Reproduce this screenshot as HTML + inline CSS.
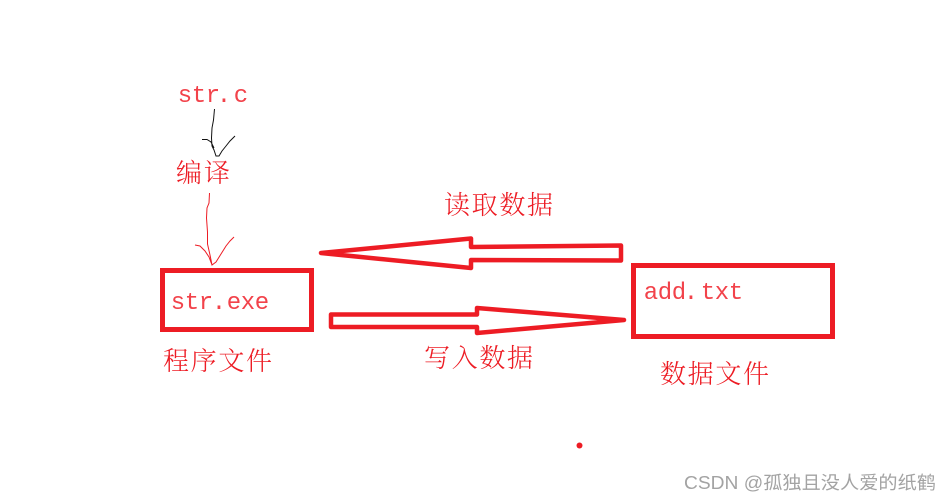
<!DOCTYPE html>
<html>
<head>
<meta charset="utf-8">
<style>
html,body{margin:0;padding:0;background:#fff;}
#c{position:relative;width:951px;height:502px;overflow:hidden;background:#fff;}
svg{position:absolute;left:0;top:0;}
.cjk{font-family:"Noto Serif CJK SC","Liberation Serif",serif;font-size:26px;font-weight:300;fill:#ed1c24;}
.mono{font-family:"Liberation Mono",monospace;font-size:24px;fill:#f2424a;text-anchor:middle;}
</style>
</head>
<body>
<div id="c">
<svg width="951" height="502" viewBox="0 0 951 502">
  <text class="mono" x="185 199 213 224 241" y="102">str.c</text>
  <text class="cjk" x="176" y="182" textLength="54">编译</text>
  <text class="cjk" x="444" y="214" textLength="109">读取数据</text>
  <text class="cjk" x="424" y="367" textLength="109">写入数据</text>
  <text class="cjk" x="163" y="370" textLength="109">程序文件</text>
  <text class="cjk" x="660" y="383" textLength="109">数据文件</text>
  <text class="mono" x="178 192 206 219 234 248 262" y="309">str.exe</text>
  <text class="mono" x="651 665 679 691 708 722 736" y="299">add.txt</text>

  <path d="M214.500 109 L213.500 120 L212 128 L211.500 138 L212 146 L214 150 L216 156 L219 156 L222 151 L226 146 L230 141 L235 136 M202 139.500 L207 139.500 L211 142 L214 148" fill="none" stroke="#111" stroke-width="1"/>
  <path d="M209.500 193 L209 203 L207 208 L206.500 218 L207.500 232 L207.500 244 L210 255 L212 265 L216 262 L221 254 L226 246 L230 241 L234 237 M195 245 L200 246 L205 251 L209 257 L212 265" fill="none" stroke="#ed1c24" stroke-width="1"/>

  <rect x="162.500" y="270.500" width="149" height="59" fill="none" stroke="#ed1c24" stroke-width="5"/>
  <rect x="633.500" y="265.500" width="199" height="71" fill="none" stroke="#ed1c24" stroke-width="5"/>

  <path d="M321 253 L471 238.500 L471 247 L621 245.500 L621 260.500 L471 260 L471 268 Z" fill="none" stroke="#ed1c24" stroke-width="4.500" stroke-linejoin="round"/>
  <path d="M624 320 L477 308 L477 314.500 L331 314.500 L331 327 L477 327 L477 333 Z" fill="none" stroke="#ed1c24" stroke-width="4.500" stroke-linejoin="round"/>

  <circle cx="579.500" cy="445.500" r="3" fill="#ed1c24"/>

  <text x="684" y="489" font-family="'Liberation Sans','Noto Sans CJK SC',sans-serif" font-size="18" fill="#a3a3a3" textLength="252" lengthAdjust="spacingAndGlyphs">CSDN @孤独且没人爱的纸鹤</text>
</svg>
</div>
</body>
</html>
